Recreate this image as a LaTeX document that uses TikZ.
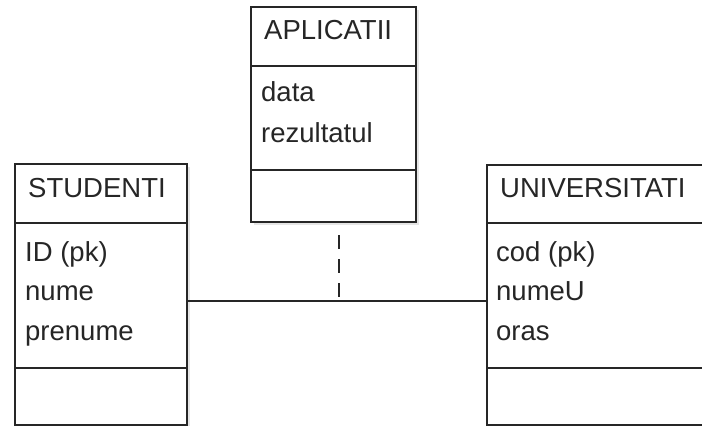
\documentclass[tikz,border=0pt]{standalone}
\usepackage{fontspec}
\setmainfont{Liberation Sans}
\begin{document}
\begin{tikzpicture}[x=1pt,y=-1pt,
  cls/.style={draw=black!85, line width=1.5pt, fill=white, rectangle, inner sep=0pt, outer sep=0pt, anchor=north west},
  shade/.style={fill=black!10},
  hdr/.style={anchor=base west, inner sep=0pt, font=\fontsize{27.5}{28}\selectfont, text=black!85},
  attr/.style={anchor=base west, inner sep=0pt, font=\fontsize{27.5}{28}\selectfont, text=black!85},
  sepline/.style={draw=black!85, line width=1.5pt},
  rel/.style={draw=black!85, line width=1.5pt}
]
\useasboundingbox (0,0) rectangle (702,426);
\clip (0,0) rectangle (702,426);
% shadows
\fill[shade] (18,167) rectangle (190,428);
\fill[shade] (254,10) rectangle (419,225);
\fill[shade] (490,168) rectangle (740,428);
% class boxes
\node[cls, minimum width=172pt, minimum height=261pt] (stud) at (15,164) {};
\node[cls, minimum width=165pt, minimum height=215pt] (aplic) at (251,7) {};
\node[cls, minimum width=240pt, minimum height=260pt] (univ) at (487,165) {};
% separators
\draw[sepline] (stud.west |- 0,223) -- (stud.east |- 0,223);
\draw[sepline] (stud.west |- 0,368) -- (stud.east |- 0,368);
\draw[sepline] (aplic.west |- 0,66) -- (aplic.east |- 0,66);
\draw[sepline] (aplic.west |- 0,170) -- (aplic.east |- 0,170);
\draw[sepline] (univ.west |- 0,223) -- (univ.east |- 0,223);
\draw[sepline] (univ.west |- 0,368) -- (univ.east |- 0,368);
% texts
\node[hdr] (h1) at (28,197) {STUDENTI};
\node[attr] (s1) at (25,261) {ID (pk)};
\node[attr] (s2) at (25,300) {nume};
\node[attr] (s3) at (25,340) {prenume};
\node[hdr] (h2) at (264,39) {APLICATII};
\node[attr] (p1) at (261,101) {data};
\node[attr] (p2) at (261,142) {rezultatul};
\node[hdr] (h3) at (500,197) {UNIVERSITATI};
\node[attr] (u1) at (496,261) {cod (pk)};
\node[attr] (u2) at (496,300) {numeU};
\node[attr] (u3) at (496,340) {oras};
% relationship
\coordinate (jl) at (339,301);
\coordinate (dtop) at (339,235);
\draw[rel] (stud.east |- jl) -- (univ.west |- jl);
\draw[rel, dash pattern=on 14pt off 10pt] (dtop) -- (jl);
\end{tikzpicture}
\end{document}
